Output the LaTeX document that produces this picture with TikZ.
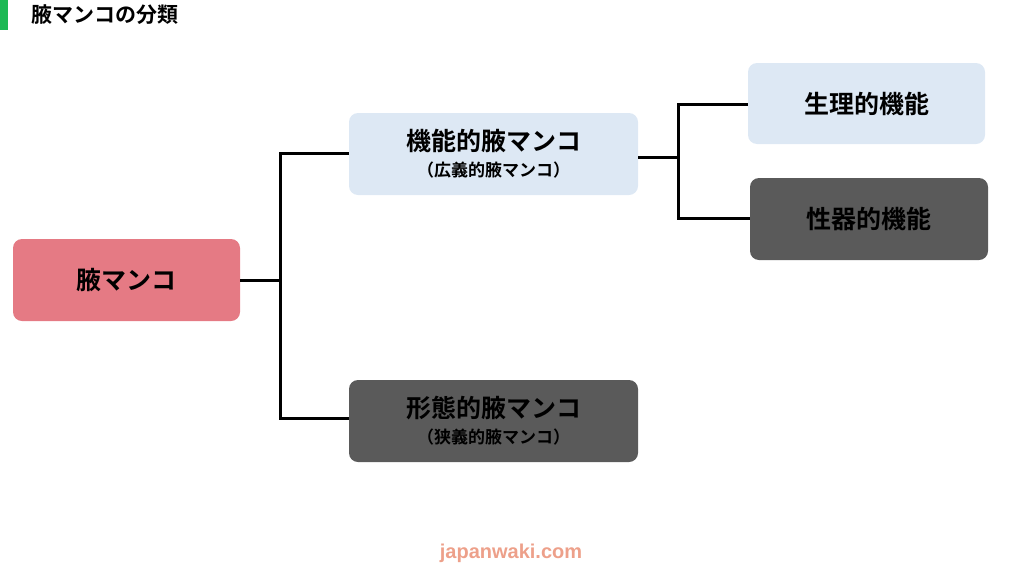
\documentclass[tikz,border=0pt]{standalone}
\usepackage{fontspec}
\newfontfamily\cjk{Noto Sans CJK JP Bold}
\newfontfamily\sans{Liberation Sans}
\definecolor{pinkc}{HTML}{E57A84}
\definecolor{lightc}{HTML}{DDE8F4}
\definecolor{darkc}{HTML}{5A5A5A}
\definecolor{greenc}{HTML}{1DB954}
\definecolor{footc}{HTML}{EDA08A}
\begin{document}
\begin{tikzpicture}[x=1pt,y=-1pt,
  box/.style={rounded corners=9pt,minimum height=82pt,inner sep=0pt,align=center,font=\cjk\fontsize{25}{30}\selectfont,text=black},
  link/.style={line width=3pt,black}]
\useasboundingbox (0,0) rectangle (1024,576);
\fill[greenc] (0,0) rectangle (8,30);
\node[anchor=west,font=\cjk\fontsize{21}{24}\selectfont] (title) at (28,15) {腋マンコの分類};
\node[box,fill=pinkc,minimum width=227pt] (root) at (126.5,280) {腋マンコ};
\node[box,fill=lightc,minimum width=289pt] (func) at (493.5,154) {機能的腋マンコ\\[-4pt]{\fontsize{17}{20}\selectfont（広義的腋マンコ）}};
\node[box,fill=darkc,minimum width=289pt] (form) at (493.5,421) {形態的腋マンコ\\[-4pt]{\fontsize{17}{20}\selectfont（狭義的腋マンコ）}};
\node[box,fill=lightc,minimum width=237pt,minimum height=81pt] (phys) at (866.5,103.5) {生理的機能};
\node[box,fill=darkc,minimum width=238pt] (sex) at (869,219) {性器的機能};
\coordinate (j1) at (280,280);
\coordinate (j2) at (678,157);
\draw[link] (root.east) -- (j1);
\draw[link] (func.west |- 0,153) -| (j1) |- (form.west |- 0,418);
\draw[link] (func.east |- 0,157) -- (j2);
\draw[link] (phys.west |- 0,104) -| (j2) |- (sex.west |- 0,218);
\node[font=\sans\bfseries\fontsize{20}{24}\selectfont,text=footc] (foot) at (511,553) {japanwaki.com};
\end{tikzpicture}
\end{document}
